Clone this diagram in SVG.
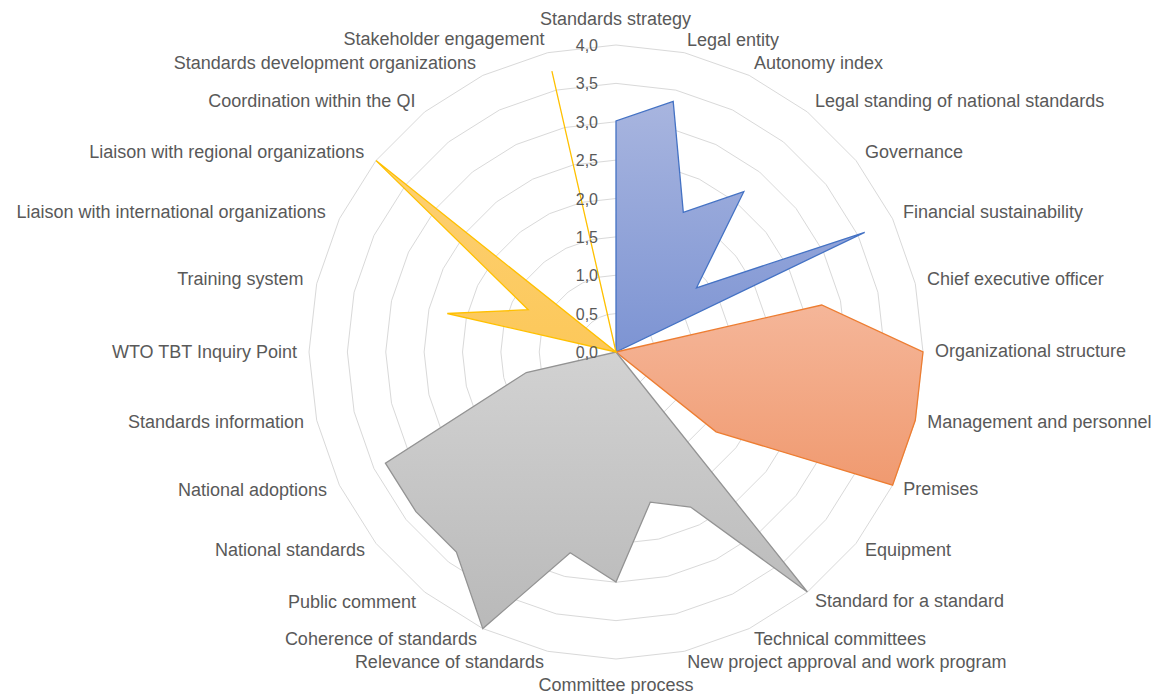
<svg xmlns="http://www.w3.org/2000/svg" width="1157" height="694" viewBox="0 0 1157 694">
<style>
.ring{fill:none;stroke:#d9d9d9;stroke-width:1;vector-effect:non-scaling-stroke}
.cat{font-family:"Liberation Sans",Arial,sans-serif;font-size:18px;fill:#595959}
.val{font-family:"Liberation Sans",Arial,sans-serif;font-size:16px;fill:#595959;text-anchor:end}
.s{stroke-width:1.3;stroke-linejoin:miter}
</style>
<defs>
<polygon id="ring" class="ring" points="0,-100 22.252,-97.493 43.388,-90.097 62.349,-78.183 78.183,-62.349 90.097,-43.388 97.493,-22.252 100,0 97.493,22.252 90.097,43.388 78.183,62.349 62.349,78.183 43.388,90.097 22.252,97.493 0,100 -22.252,97.493 -43.388,90.097 -62.349,78.183 -78.183,62.349 -90.097,43.388 -97.493,22.252 -100,0 -97.493,-22.252 -90.097,-43.388 -78.183,-62.349 -62.349,-78.183 -43.388,-90.097 -22.252,-97.493"/>
<linearGradient id="gBlue" x1="0" y1="0" x2="0" y2="1"><stop offset="0" stop-color="#a8b5df"/><stop offset="1" stop-color="#7d94d3"/></linearGradient>
<linearGradient id="gOrange" x1="0" y1="0" x2="0" y2="1"><stop offset="0" stop-color="#f5b699"/><stop offset="1" stop-color="#f09a70"/></linearGradient>
<linearGradient id="gGrey" x1="0" y1="0" x2="0" y2="1"><stop offset="0" stop-color="#d2d2d2"/><stop offset="1" stop-color="#b9b9b9"/></linearGradient>
<linearGradient id="gYellow" x1="0" y1="0" x2="0" y2="1"><stop offset="0" stop-color="#fdd47e"/><stop offset="1" stop-color="#fcc85a"/></linearGradient>
</defs>
<rect width="1157" height="694" fill="#ffffff"/>
<g id="gridlines" transform="translate(616,352)">
<use href="#ring" transform="scale(0.38375)"/>
<use href="#ring" transform="scale(0.7675)"/>
<use href="#ring" transform="scale(1.15125)"/>
<use href="#ring" transform="scale(1.535)"/>
<use href="#ring" transform="scale(1.91875)"/>
<use href="#ring" transform="scale(2.3025)"/>
<use href="#ring" transform="scale(2.68625)"/>
<use href="#ring" transform="scale(3.07)"/>
</g>
<g id="connectors">
<g id="series-blue"><polygon class="s" fill="url(#gBlue)" stroke="#4472c4" points="616,352 616,121 673.2,101.4 683.3,212.4 743.8,191.7 696.5,287.8 864.7,232.3"/></g>
<g id="series-orange"><polygon class="s" fill="url(#gOrange)" stroke="#ed7d31" points="616,352 821.7,305 923,352 915.3,420.3 892.6,485.2 716.1,431.8"/></g>
<g id="series-grey"><polygon class="s" fill="url(#gGrey)" stroke="#939393" points="616,352 807.4,592 690.6,507 650.3,502.1 616,582 570.2,552.8 482.8,628.6 456.4,552.1 415.9,511.6 385.4,463.1 526.3,372.5"/></g>
<g id="series-yellow"><polygon class="s" fill="url(#gYellow)" stroke="#ffc000" points="616,352 447.3,313.5 528.2,309.7 376,160.6 616,352 551.9,71.2 616,352"/></g>
</g>
<g id="value-axis">
<text class="val" x="598" y="358">0,0</text>
<text class="val" x="598" y="319.6">0,5</text>
<text class="val" x="598" y="281.3">1,0</text>
<text class="val" x="598" y="242.9">1,5</text>
<text class="val" x="598" y="204.5">2,0</text>
<text class="val" x="598" y="166.1">2,5</text>
<text class="val" x="598" y="127.8">3,0</text>
<text class="val" x="598" y="89.4">3,5</text>
<text class="val" x="598" y="51">4,0</text>
</g>
<g id="category-labels">
<g id="lbl-top" class="cat" text-anchor="middle">
<text x="615.5" y="24.5">Standards strategy</text>
<text x="616" y="691">Committee process</text>
</g>
<g id="lbl-right" class="cat" text-anchor="start">
<text x="687" y="45.5">Legal entity</text>
<text x="754" y="69.3">Autonomy index</text>
<text x="815" y="107">Legal standing of national standards</text>
<text x="865" y="157.7">Governance</text>
<text x="903" y="217.7">Financial sustainability</text>
<text x="927" y="285">Chief executive officer</text>
<text x="935" y="356.7">Organizational structure</text>
<text x="927.3" y="427.7">Management and personnel</text>
<text x="903.3" y="495.3">Premises</text>
<text x="865" y="556">Equipment</text>
<text x="815" y="606.7">Standard for a standard</text>
<text x="754" y="645.3">Technical committees</text>
<text x="687.3" y="668.3">New project approval and work program</text>
</g>
<g id="lbl-left" class="cat" text-anchor="end">
<text x="544.6" y="45.3">Stakeholder engagement</text>
<text x="476" y="69.3">Standards development organizations</text>
<text x="415.4" y="107">Coordination within the QI</text>
<text x="364.3" y="157.7">Liaison with regional organizations</text>
<text x="325.7" y="217.7">Liaison with international organizations</text>
<text x="303.6" y="285">Training system</text>
<text x="297" y="357.7">WTO TBT Inquiry Point</text>
<text x="304" y="427.7">Standards information</text>
<text x="327" y="496">National adoptions</text>
<text x="365" y="556">National standards</text>
<text x="416" y="607.7">Public comment</text>
<text x="477" y="645.3">Coherence of standards</text>
<text x="544" y="668.3">Relevance of standards</text>
</g>
</g>
</svg>
